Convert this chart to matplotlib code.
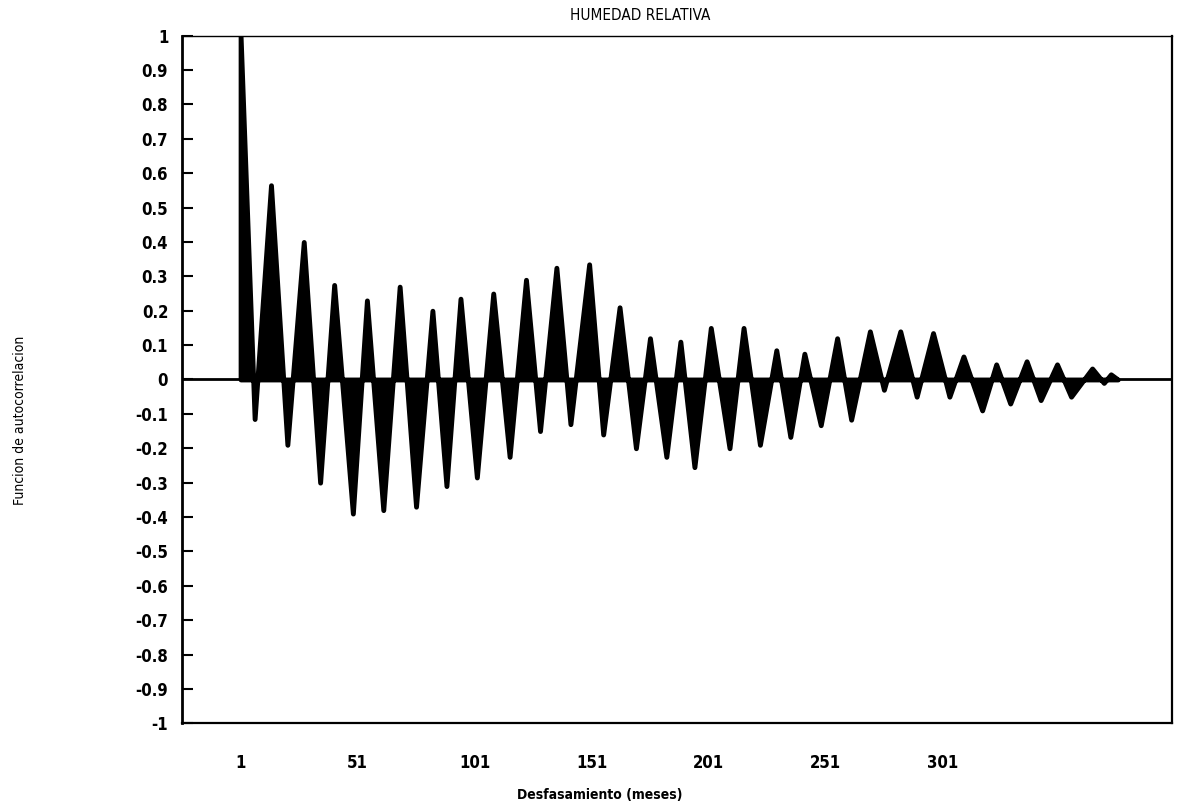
import matplotlib
matplotlib.use('Agg')

import matplotlib.pyplot as plt

plt.rcParams['font.family'] = ['DejaVu Sans']
plt.rcParams['axes.unicode_minus'] = False

# autocorrelation: lobe tops and bottoms (lag, value)
peak_lags = [1, 14, 28, 41, 55, 69, 83, 95, 109, 123, 136, 150, 163, 176,
             189, 202, 216, 230, 242, 256, 270, 283, 297, 310, 324, 337,
             350, 365, 373]
peak_vals = [1.0, 0.565, 0.40, 0.275, 0.23, 0.27, 0.20, 0.235, 0.25, 0.29,
             0.325, 0.335, 0.21, 0.12, 0.11, 0.15, 0.15, 0.085, 0.075, 0.12,
             0.14, 0.14, 0.135, 0.067, 0.044, 0.053, 0.044, 0.032, 0.015]
trough_lags = [7, 21, 35, 49, 62, 76, 89, 102, 116, 129, 142, 156, 170, 183,
               195, 210, 223, 236, 249, 262, 276, 290, 304, 318, 330, 343,
               356, 370, 376]
trough_vals = [-0.115, -0.19, -0.30, -0.39, -0.38, -0.37, -0.31, -0.285,
               -0.225, -0.15, -0.13, -0.16, -0.20, -0.225, -0.255, -0.20,
               -0.19, -0.167, -0.133, -0.117, -0.03, -0.05, -0.05, -0.09,
               -0.07, -0.06, -0.05, -0.01, 0.0]

ytick_vals = [1, 0.9, 0.8, 0.7, 0.6, 0.5, 0.4, 0.3, 0.2, 0.1, 0,
              -0.1, -0.2, -0.3, -0.4, -0.5, -0.6, -0.7, -0.8, -0.9, -1]
xtick_labels = ['1', '51', '101', '151', '201', '251', '301']

pts = sorted(zip(peak_lags + trough_lags, peak_vals + trough_vals))
lags = [p[0] for p in pts]
acf = [p[1] for p in pts]

fig = plt.figure(figsize=(11.98, 8.10), dpi=100)
ax = fig.add_axes([0.152, 0.107, 0.826, 0.849])

# thick outline so the lobes look as heavy as the printed bars
ax.fill_between(lags, acf, 0, facecolor='black', edgecolor='black',
                linewidth=3.5, joinstyle='round')
ax.axhline(0, color='black', lw=2)

ax.set_xlim(-24, 399)
ax.set_ylim(-1, 1)

ax.set_yticks(ytick_vals)
ax.set_yticklabels(['%g' % v for v in ytick_vals], fontsize=12,
                   fontweight='bold', fontstretch='condensed')
ax.tick_params(axis='y', direction='in', length=8, width=1.5, pad=10)

ax.set_xticks([int(t) for t in xtick_labels])
ax.set_xticklabels(xtick_labels, fontsize=12, fontweight='bold',
                   fontstretch='condensed')
ax.tick_params(axis='x', length=0, pad=22)

ax.spines['left'].set_linewidth(2)
ax.spines['bottom'].set_linewidth(1.6)
ax.spines['top'].set_linewidth(1)
ax.spines['right'].set_linewidth(1.6)

fig.text(640 / 1198, 1 - 15 / 810, 'HUMEDAD RELATIVA', ha='center',
         va='center', fontsize=11, fontstretch='condensed')
fig.text(20 / 1198, 1 - 420 / 810, 'Funcion de autocorrelacion', ha='center',
         va='center', rotation=90, fontsize=10, fontstretch='condensed')
fig.text(600 / 1198, 1 - 795 / 810, 'Desfasamiento (meses)', ha='center',
         va='center', fontsize=10, fontweight='bold', fontstretch='condensed')

fig.savefig('out.png', dpi=100)
